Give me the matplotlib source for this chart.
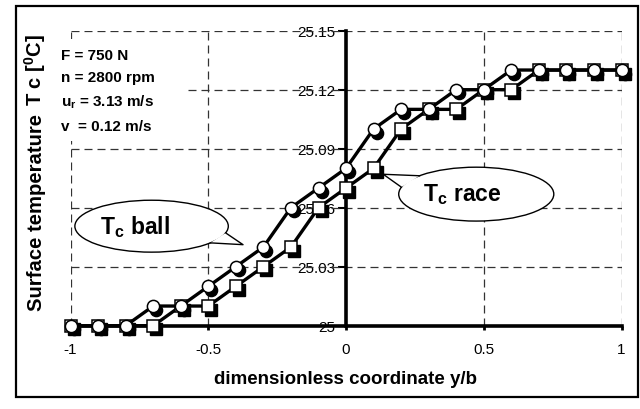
import matplotlib
matplotlib.use('Agg')
import matplotlib.pyplot as plt
import numpy as np
from matplotlib.patches import Ellipse, Rectangle
from matplotlib.transforms import offset_copy

plt.rcParams['font.family'] = ['Liberation Sans', 'DejaVu Sans']
plt.rcParams['mathtext.fontset'] = 'custom'
plt.rcParams['mathtext.rm'] = 'Liberation Sans:bold'
plt.rcParams['mathtext.bf'] = 'Liberation Sans:bold'
plt.rcParams['mathtext.it'] = 'Liberation Sans:bold'
plt.rcParams['mathtext.default'] = 'bf'
plt.rcParams['axes.unicode_minus'] = False

# ---- data ----
y_b = [-1.0, -0.9, -0.8, -0.7, -0.6, -0.5, -0.4, -0.3, -0.2, -0.1, 0.0,
       0.1, 0.2, 0.3, 0.4, 0.5, 0.6, 0.7, 0.8, 0.9, 1.0]
tc_ball = [25.00, 25.00, 25.00, 25.01, 25.01, 25.02, 25.03, 25.04, 25.06, 25.07, 25.08,
           25.10, 25.11, 25.11, 25.12, 25.12, 25.13, 25.13, 25.13, 25.13, 25.13]
tc_race = [25.00, 25.00, 25.00, 25.00, 25.01, 25.01, 25.02, 25.03, 25.04, 25.06, 25.07,
           25.08, 25.10, 25.11, 25.11, 25.12, 25.12, 25.13, 25.13, 25.13, 25.13]
x_ticks = [-1, -0.5, 0, 0.5, 1]
x_labels = ['-1', '-0.5', '0', '0.5', '1']
y_ticks = [25.0, 25.03, 25.06, 25.09, 25.12, 25.15]
y_labels = ['25', '25.03', '25.06', '25.09', '25.12', '25.15']
params = ['F = 750 N', 'n = 2800 rpm', 'u$_r$ = 3.13 m/s', 'v  = 0.12 m/s']

W, H = 640, 410
fig = plt.figure(figsize=(W / 100, H / 100), dpi=100)
fig.patch.set_facecolor('white')

ax = fig.add_axes([70.6 / W, 1 - 326.7 / H, 550.9 / W, 295 / H])
ax.set_xlim(-1, 1)
ax.set_ylim(25, 25.15)
ax.patch.set_visible(False)

for s in ['top', 'right']:
    ax.spines[s].set_visible(False)
ax.spines['left'].set_position(('data', 0))
ax.spines['left'].set_linewidth(2.6)
ax.spines['bottom'].set_linewidth(2.6)

ax.set_xticks(x_ticks)
ax.set_xticklabels(x_labels, fontsize=11)
ax.set_yticks(y_ticks)
ax.set_yticklabels(y_labels, fontsize=11)
ax.tick_params(axis='x', direction='out', length=3, width=2, pad=8.5)
ax.tick_params(axis='y', direction='out', length=6, width=1.5, pad=1.5)

# grid
for gx in [-1, -0.5, 0.5, 1]:
    ax.axvline(gx, color='#333333', lw=0.9, ls=(0, (6.4, 4)), zorder=1.6)
for gy in y_ticks[1:]:
    ax.axhline(gy, color='#333333', lw=0.9, ls=(0, (6.4, 4)), zorder=1.6)

shadow = offset_copy(ax.transData, fig=fig, x=3, y=-3.5, units='dots')

def series(yv, marker, ms, z):
    ax.plot(y_b, yv, ls='none', marker=marker, ms=ms, mfc='black', mec='black',
            transform=shadow, clip_on=False, zorder=z)
    ax.plot(y_b, yv, color='black', lw=2.4, zorder=z + 0.1, clip_on=False)
    ax.plot(y_b, yv, ls='none', marker=marker, ms=ms, mfc='white', mec='black',
            mew=1.1, clip_on=False, zorder=z + 0.2)

series(tc_race, 's', 8.2, 3)
series(tc_ball, 'o', 8.8, 4)

# parameter box
ax.add_patch(Rectangle((-1.06, 25.0938), 0.47, 0.052, fc='white', ec='none',
                       zorder=1.7, clip_on=False))
for t, yy in zip(params, [25.1375, 25.1263, 25.1141, 25.1014]):
    ax.text(-1.034, yy, t, fontsize=11, weight='bold', ha='left', va='center', zorder=1.8)

# callouts
def bubble(cx, cy, w, h, tip, th1, th2, tx, ty, word):
    ax.add_patch(Ellipse((cx, cy), w, h, fc='white', ec='black', lw=1.0, zorder=9,
                         clip_on=False))
    a, b = w / 2, h / 2
    p1 = (cx + a * np.cos(np.radians(th1)), cy + b * np.sin(np.radians(th1)))
    p2 = (cx + a * np.cos(np.radians(th2)), cy + b * np.sin(np.radians(th2)))
    ax.fill([p1[0], tip[0], p2[0]], [p1[1], tip[1], p2[1]], fc='white', ec='none',
            zorder=9.1, clip_on=False)
    ax.plot([p1[0], tip[0], p2[0]], [p1[1], tip[1], p2[1]], color='black', lw=1.0,
            zorder=9.2, clip_on=False)
    ax.text(tx, ty, 'T$_c$ ' + word, fontsize=16.5, weight='bold', ha='center',
            va='center', zorder=10)

bubble(-0.706, 25.0506, 0.557, 0.0264, (-0.374, 25.0412), -15, -40,
       -0.765, 25.0505, 'ball')
bubble(0.4727, 25.0669, 0.563, 0.0274, (0.135, 25.0770), 137, 165,
       0.422, 25.0672, 'race')

# axis titles
fig.text(346 / W, 1 - 380 / H, 'dimensionless coordinate y/b', fontsize=13.5,
         weight='bold', ha='center', va='center')

t1 = fig.text(41.5 / W, 1 - 311 / H, 'Surface temperature ', fontsize=14.6,
              weight='bold', rotation=90, rotation_mode='anchor',
              ha='left', va='baseline')
fig.canvas.draw()
bb = t1.get_window_extent(renderer=fig.canvas.get_renderer())
fig.text(41.5 / W, (bb.y1 + 2) / H, 'T c [$^0$C]', fontsize=14.5,
         weight='bold', rotation=90, rotation_mode='anchor',
         ha='left', va='baseline')

# frame
fig.add_artist(Rectangle((16 / W, 1 - 398 / H), 622 / W, 391 / H, transform=fig.transFigure,
                         fill=False, ec='black', lw=1.6))

fig.savefig('out.png', dpi=100)
